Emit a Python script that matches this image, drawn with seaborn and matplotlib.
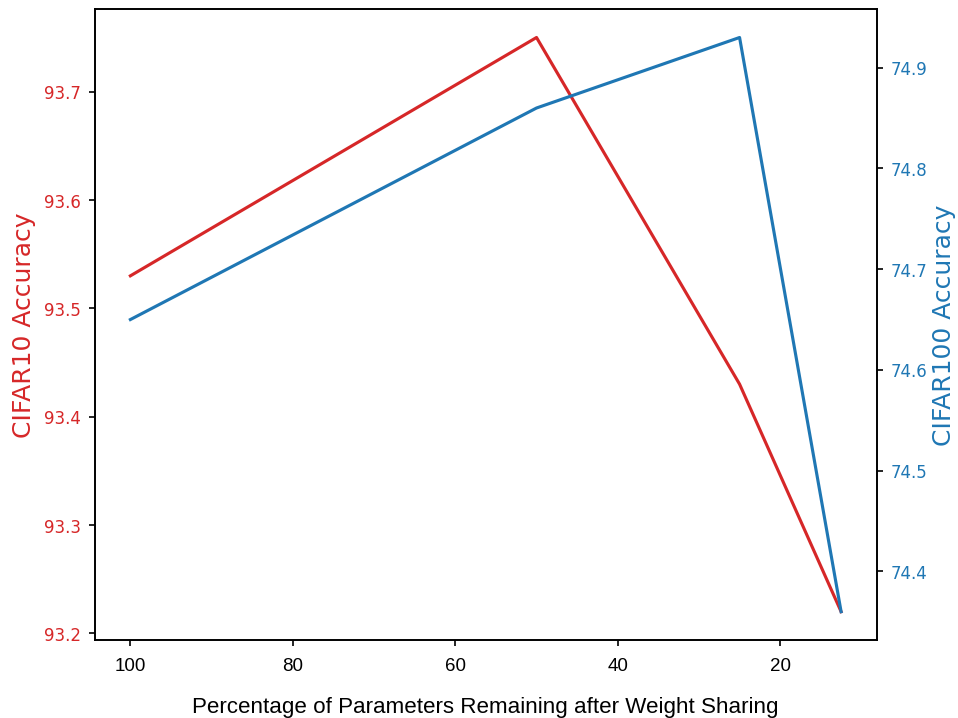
import pandas as pd
import matplotlib.pyplot as plt
import seaborn as sns

# Values
params_remaining = [100, 50, 25, 12.5]
cifar10_acc = [93.53, 93.75, 93.43, 93.22]
cifar100_acc = [74.65, 74.86, 74.93, 74.36]

df = pd.DataFrame({
    "Remaining": params_remaining,
    "CIFAR10": cifar10_acc,
    "CIFAR100": cifar100_acc,
})

red = "#d62728"
blue = "#1f77b4"

fig, ax = plt.subplots(figsize=(6.4, 4.8), dpi=149.7)
fig.subplots_adjust(left=0.099, right=0.915, top=0.987, bottom=0.108)

sns.lineplot(data=df, x="Remaining", y="CIFAR10", color=red, linewidth=1.5, ax=ax)
ax.set_ylabel("CIFAR10 Accuracy", color=red, fontsize=12)
ax.tick_params(axis="y", labelcolor=red, labelsize=8, length=3)

ax2 = ax.twinx()
sns.lineplot(data=df, x="Remaining", y="CIFAR100", color=blue, linewidth=1.5, ax=ax2)
ax2.set_ylabel("CIFAR100 Accuracy", color=blue, fontsize=12, labelpad=2.5)
ax2.tick_params(axis="y", labelcolor=blue, labelsize=8, length=3)

ax.invert_xaxis()
ax.tick_params(axis="x", length=3, pad=5)
ax.set_xlabel("Percentage of Parameters Remaining after Weight Sharing",
              fontsize=10.75, family=["Liberation Sans", "DejaVu Sans"], labelpad=11)
for lbl in ax.get_xticklabels():
    lbl.set_family(["Liberation Sans", "DejaVu Sans"])
    lbl.set_fontsize(9)

plt.savefig("out.png", dpi=149.7)
plt.close()
